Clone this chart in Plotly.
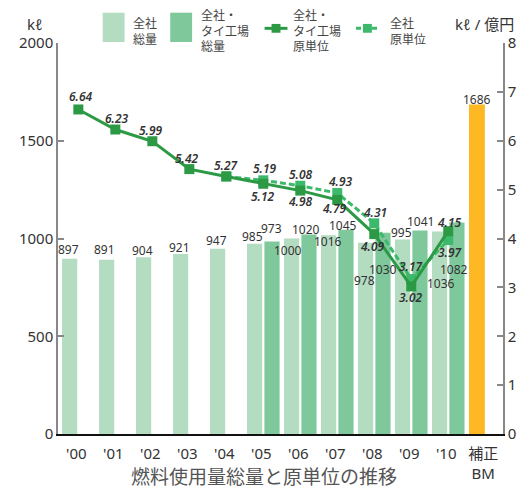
import plotly.graph_objects as go

# ---- data -------------------------------------------------------------
CATEGORIES = ["'00", "'01", "'02", "'03", "'04", "'05", "'06", "'07", "'08", "'09", "'10", "補正<br>BM"]

# 全社 総量 (kℓ), 2000-2010
COMPANY_TOTAL = [897, 891, 904, 921, 947, 973, 1000, 1016, 978, 995, 1036]
# 全社・タイ工場 総量 (kℓ), 2005-2010
GROUP_TOTAL_START = 5
GROUP_TOTAL = [985, 1020, 1045, 1030, 1041, 1082]
# 補正BM (kℓ)
BENCHMARK = [1686]

# 全社・タイ工場 原単位 (kℓ/億円), 2000-2010
GROUP_INTENSITY = [6.64, 6.23, 5.99, 5.42, 5.27, 5.12, 4.98, 4.79, 4.09, 3.02, 4.15]
# 全社 原単位 (kℓ/億円), 2004-2010
COMPANY_INTENSITY_START = 4
COMPANY_INTENSITY = [5.27, 5.19, 5.08, 4.93, 4.31, 3.17, 3.97]

# ---- styling ------------------------------------------------------------
W, H = 529, 495
L, R, T, B = 58, 23, 43, 52
PW, PH = W - L - R, H - T - B

C_LIGHT = "#b3dcc1"
C_DARK = "#7ec89b"
C_ORANGE = "#fdb824"
C_SOLID = "#2c9a45"
C_DASH = "#3cb96a"
TXT = "#333333"
FONT = "Noto Sans, Noto Sans CJK JP, sans-serif"
JFONT = "Noto Sans CJK JP, sans-serif"

# label nudges (px) for each value label: (dx, dy up)
COMPANY_TOTAL_NUDGE = [(-1, 9), (-2, 10), (-1, 7), (-1.5, 6), (-1, 8), (17, 15),
                       (-4, -12), (-0.5, -6), (-1, -38), (-1, 7), (1, -52)]
GROUP_TOTAL_NUDGE = [(-19.5, 5), (-3, 5), (-3, 4.5), (0, -37), (0.5, 9), (-3, -47)]
BENCHMARK_NUDGE = [(0.5, 5)]
GROUP_INT_NUDGE = [(2.5, 13), (1.5, 11.5), (-1, 10.5), (-2, 11), (0, 10.5), (0, -13),
                   (0, -11), (-3, -9), (-1.5, -12), (0, -11), (1, 8.5)]
COMPANY_INT_NUDGE = [None, (2, 11.5), (1, 11), (3, 11.5), (0.5, 10.5), (0, 12.5), (2, -12.5)]

LEFT_OFF, RIGHT_OFF, BAR_W = -0.44, 0.03, 0.41


def px_x(px):
    return (px - L) / PW


def px_y(py):
    return (H - B - py) / PH


fig = go.Figure()

n_years = len(COMPANY_TOTAL)
x_company = list(range(n_years))
x_group = list(range(GROUP_TOTAL_START, GROUP_TOTAL_START + len(GROUP_TOTAL)))
x_bm = [n_years]

fig.add_trace(go.Bar(x=x_company, y=COMPANY_TOTAL, offset=LEFT_OFF, width=BAR_W,
                     marker=dict(color=C_LIGHT, line_width=0), name="全社 総量"))
fig.add_trace(go.Bar(x=x_group, y=GROUP_TOTAL, offset=RIGHT_OFF, width=BAR_W,
                     marker=dict(color=C_DARK, line_width=0), name="全社・タイ工場 総量"))
fig.add_trace(go.Bar(x=x_bm, y=BENCHMARK, offset=LEFT_OFF, width=BAR_W + 0.02,
                     marker=dict(color=C_ORANGE, line_width=0), name="補正BM"))

x_gi = list(range(len(GROUP_INTENSITY)))
x_ci = list(range(COMPANY_INTENSITY_START, COMPANY_INTENSITY_START + len(COMPANY_INTENSITY)))

fig.add_trace(go.Scatter(x=x_ci, y=COMPANY_INTENSITY, yaxis="y2", mode="lines+markers",
                         line=dict(color=C_DASH, width=3, dash="6px,3px"),
                         marker=dict(symbol="square", size=10, color=C_DASH),
                         name="全社 原単位"))
fig.add_trace(go.Scatter(x=x_gi, y=GROUP_INTENSITY, yaxis="y2", mode="lines+markers",
                         line=dict(color=C_SOLID, width=3),
                         marker=dict(symbol="square", size=10, color=C_SOLID),
                         name="全社・タイ工場 原単位"))

annotations = []


def bar_center(x, off):
    return x + off + BAR_W / 2


def add_value_labels(xs, ys, nudges, off=None, yref="y", italic=False):
    for x, y, nd in zip(xs, ys, nudges):
        if nd is None:
            continue
        dx, dy = nd
        xc = bar_center(x, off) if off is not None else x
        txt = f"{y:.2f}" if italic else f"{y}"
        annotations.append(dict(
            x=xc, y=y, xref="x", yref=yref, text=txt, showarrow=False,
            xanchor="center", yanchor="middle", xshift=dx, yshift=dy,
            font=dict(family=FONT, size=12, color=TXT,
                      style="italic" if italic else "normal",
                      weight=600 if italic else 400)))


add_value_labels(x_company, COMPANY_TOTAL, COMPANY_TOTAL_NUDGE, off=LEFT_OFF)
add_value_labels(x_group, GROUP_TOTAL, GROUP_TOTAL_NUDGE, off=RIGHT_OFF)
add_value_labels(x_bm, BENCHMARK, BENCHMARK_NUDGE, off=LEFT_OFF)
add_value_labels(x_gi, GROUP_INTENSITY, GROUP_INT_NUDGE, yref="y2", italic=True)
add_value_labels(x_ci, COMPANY_INTENSITY, COMPANY_INT_NUDGE, yref="y2", italic=True)


def paper_text(cx, cy, text, size, color=TXT, family=FONT, xanchor="center"):
    return dict(x=px_x(cx), y=px_y(cy), xref="paper", yref="paper", text=text,
                showarrow=False, xanchor=xanchor, yanchor="middle", align="left",
                font=dict(family=family, size=size, color=color))


# axis unit labels and caption
annotations += [
    paper_text(35, 23.5, "kℓ", 15),
    paper_text(487, 24, "kℓ / 億円", 15),
    paper_text(265, 485, "燃料使用量総量と原単位の推移", 19, color="#555555", family=JFONT),
]

# legend drawn at the top
shapes = []
legend_items = [
    ("bar", C_LIGHT, 103, "全社<br>総量", 131),
    ("bar", C_DARK, 171, "全社・<br>タイ工場<br>総量", 200),
    ("solid", C_SOLID, 266, "全社・<br>タイ工場<br>原単位", 293),
    ("dash", C_DASH, 358, "全社<br>原単位", 390),
]
for kind, col, x0, label, tx in legend_items:
    if kind == "bar":
        shapes.append(dict(type="rect", xref="paper", yref="paper",
                           x0=px_x(x0), x1=px_x(x0 + 22), y0=px_y(42), y1=px_y(12),
                           fillcolor=col, line_width=0))
    else:
        shapes.append(dict(type="line", xref="paper", yref="paper",
                           x0=px_x(x0), x1=px_x(x0 + 23), y0=px_y(28), y1=px_y(28),
                           line=dict(color=col, width=3,
                                     dash="solid" if kind == "solid" else "5px,3px")))
        shapes.append(dict(type="rect", xref="paper", yref="paper",
                           x0=px_x(x0 + 7), x1=px_x(x0 + 16), y0=px_y(32.5), y1=px_y(23.5),
                           fillcolor=col, line_width=0))
    annotations.append(paper_text(tx, 30, label, 12, color="#444444", family=JFONT,
                                  xanchor="left"))

fig.update_layout(
    width=W, height=H,
    margin=dict(l=L, r=R, t=T, b=B, pad=0),
    paper_bgcolor="white", plot_bgcolor="white",
    barmode="overlay", showlegend=False,
    font=dict(family=FONT, size=15, color=TXT),
    xaxis=dict(range=[-0.55, 11.48], tickvals=list(range(len(CATEGORIES))), ticktext=CATEGORIES,
               showgrid=False, zeroline=False, showline=True, linecolor="#111111", linewidth=2,
               ticks="", tickfont=dict(family=FONT, size=15, color=TXT), ticklabelshift=-2,
               ticklabelstandoff=5),
    yaxis=dict(range=[0, 2000], tickvals=[0, 500, 1000, 1500, 2000], showgrid=False, zeroline=False,
               showline=True, linecolor="#888888", linewidth=1.5,
               ticks="inside", ticklen=6, tickcolor="#888888", tickwidth=1.5,
               tickfont=dict(family=FONT, size=15, color=TXT)),
    yaxis2=dict(range=[0, 8], tickvals=list(range(9)), overlaying="y", side="right",
                showgrid=False, zeroline=False, showline=True, linecolor="#888888", linewidth=1.5,
                ticks="inside", ticklen=6, tickcolor="#888888", tickwidth=1.5,
                tickfont=dict(family=FONT, size=15, color=TXT)),
    annotations=annotations,
    shapes=shapes,
)

fig.write_html("out.html")
